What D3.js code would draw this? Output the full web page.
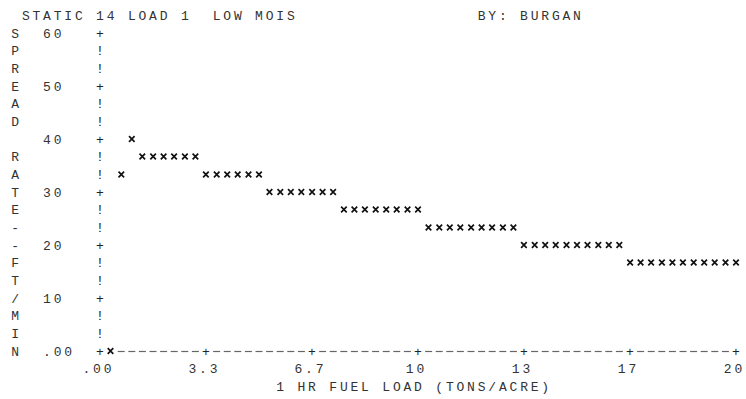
<!DOCTYPE html>
<html><head><meta charset="utf-8">
<script src="https://cdn.jsdelivr.net/npm/d3@7"></script>
<style>
body{margin:0;background:#fff}
svg{display:block}
text{font-family:"Liberation Mono","DejaVu Sans Mono",monospace;font-size:13px;fill:#333;white-space:pre}
</style></head>
<body><svg width="746" height="399"></svg>
<script>
// ---- data ----
const title = "STATIC 14 LOAD 1  LOW MOIS";
const author = "BY: BURGAN";
const xTitle = "1 HR FUEL LOAD (TONS/ACRE)";
const yTitle = "SPREAD RATE--FT/MIN";
const xTicks = [0, 3.333, 6.667, 10, 13.333, 16.667, 20];
const xTickLabels = [".00", "3.3", "6.7", "10", "13", "17", "20"];
const yTicks = [0, 10, 20, 30, 40, 50, 60];
const yTickLabels = [".00", "10", "20", "30", "40", "50", "60"];
const loads = [
  0.33, 0.67, 1.00, 1.33, 1.67, 2.00, 2.33, 2.67, 3.00, 3.33,
  3.67, 4.00, 4.33, 4.67, 5.00, 5.33, 5.67, 6.00, 6.33, 6.67,
  7.00, 7.33, 7.67, 8.00, 8.33, 8.67, 9.00, 9.33, 9.67, 10.00,
  10.33, 10.67, 11.00, 11.33, 11.67, 12.00, 12.33, 12.67, 13.00, 13.33,
  13.67, 14.00, 14.33, 14.67, 15.00, 15.33, 15.67, 16.00, 16.33, 16.67,
  17.00, 17.33, 17.67, 18.00, 18.33, 18.67, 19.00, 19.33, 19.67, 20.00
];
const spread = [
  0, 33.3, 40, 36.7, 36.7, 36.7, 36.7, 36.7, 36.7, 33.3,
  33.3, 33.3, 33.3, 33.3, 33.3, 30, 30, 30, 30, 30,
  30, 30, 26.7, 26.7, 26.7, 26.7, 26.7, 26.7, 26.7, 26.7,
  23.3, 23.3, 23.3, 23.3, 23.3, 23.3, 23.3, 23.3, 23.3, 20,
  20, 20, 20, 20, 20, 20, 20, 20, 20, 16.7,
  16.7, 16.7, 16.7, 16.7, 16.7, 16.7, 16.7, 16.7, 16.7, 16.7
];

// ---- layout (character grid of a line printer) ----
const svg = d3.select("svg");
const x = d3.scaleLinear().domain([0, 20]).range([100, 736]);
const y = d3.scaleLinear().domain([0, 60]).range([351, 33]);
const nCols = 60, nRows = 18;
const pitch = (x(20) - x(0)) / nCols;
const rowH = (y(0) - y(60)) / nRows;
const charW = 7.8;
const colX = c => x(0) + c * pitch;
const rowY = r => y(60) + r * rowH;

function textAt(str, col, yy, fill) {
  return svg.append("text")
    .attr("x", colX(col) - charW / 2)
    .attr("y", yy)
    .attr("dy", "0.36em")
    .attr("xml:space", "preserve")
    .style("letter-spacing", (pitch - charW) + "px")
    .style("fill", fill || "#333")
    .text(str);
}
function centeredAt(str, cx, yy) {
  const n = str.length;
  return svg.append("text")
    .attr("x", cx - ((n - 1) * pitch) / 2 - charW / 2)
    .attr("y", yy)
    .attr("dy", "0.36em")
    .style("letter-spacing", (pitch - charW) + "px")
    .text(str);
}

// titles
textAt(title, -7, rowY(-1));
textAt(author, 36, rowY(-1));
textAt(xTitle, 17, rowY(nRows + 2));

// vertical y title
yTitle.split("").forEach((ch, i) => textAt(ch, -8, rowY(i)));

// y tick labels (left-aligned like printer output)
yTicks.forEach((t, i) => textAt(yTickLabels[i], -5, y(t)));

// y axis characters
const yAxisRows = d3.range(0, nRows + 1);
svg.append("g").selectAll("text").data(yAxisRows).join("text")
  .attr("x", x(0)).attr("y", r => rowY(r)).attr("dy", "0.36em")
  .attr("text-anchor", "middle")
  .style("fill", "#222")
  .text(r => (r % 3 === 0 ? "+" : "!"));

// x axis dashes (skip columns where a point sits on the axis row)
const onAxis = new Set(loads.filter((l, i) => spread[i] === 0).map(l => Math.round((x(l) - x(0)) / pitch)));
const tickCols = xTicks.map(t => Math.round((x(t) - x(0)) / pitch));
const dashCols = d3.range(1, nCols).filter(c => !tickCols.includes(c) && !onAxis.has(c));
svg.append("g").selectAll("line").data(dashCols).join("line")
  .attr("x1", c => colX(c) - 3.5).attr("x2", c => colX(c) + 3.5)
  .attr("y1", y(0) + 0.5).attr("y2", y(0) + 0.5)
  .attr("stroke", "#666").attr("stroke-width", 1.2);
// x axis tick marks "+"
svg.append("g").selectAll("text").data(xTicks.slice(1)).join("text")
  .attr("x", d => x(d)).attr("y", y(0)).attr("dy", "0.36em")
  .attr("text-anchor", "middle").style("fill", "#222")
  .text("+");

// x tick labels
xTicks.forEach((t, i) => centeredAt(xTickLabels[i], x(t) - 3, rowY(nRows + 1)));

// data points
const star = d3.symbol().type(d3.symbolTimes).size(22);
svg.append("g").selectAll("path").data(loads.map((l, i) => [l, spread[i]])).join("path")
  .attr("transform", d => `translate(${x(d[0])},${y(d[1])})`)
  .attr("d", star)
  .attr("fill", "none")
  .attr("stroke", "#111")
  .attr("stroke-width", 1.7);
</script>
</body></html>
